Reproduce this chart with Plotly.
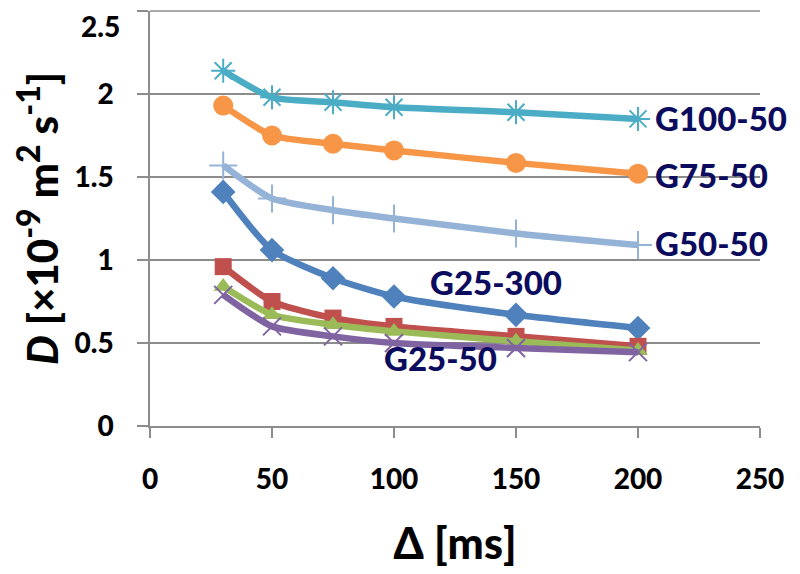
import plotly.graph_objects as go

delta_ms = [30, 50, 75, 100, 150, 200]

series_names = ["G25-300", "G25-50 a", "G25-50 b", "G25-50", "G100-50", "G75-50", "G50-50"]
g25_300 = [1.41, 1.06, 0.89, 0.78, 0.67, 0.59]
g25_a = [0.96, 0.75, 0.65, 0.60, 0.54, 0.48]
g25_b = [0.84, 0.67, 0.61, 0.57, 0.51, 0.455]
g25_50 = [0.79, 0.60, 0.54, 0.50, 0.47, 0.445]
g100_50 = [2.14, 1.98, 1.95, 1.92, 1.89, 1.85]
g75_50 = [1.93, 1.75, 1.70, 1.66, 1.585, 1.52]
g50_50 = [1.57, 1.37, 1.30, 1.25, 1.16, 1.09]

x_ticks = [0, 50, 100, 150, 200, 250]
y_ticks = [0, 0.5, 1, 1.5, 2, 2.5]
y_tick_text = ["0", "0.5", "1", "1.5", "2", "2.5"]

GRID = "#8C8C8C"

styles = [
    (g25_300, "#4F81BD", "diamond", 19, 0),
    (g25_a, "#C0504D", "square", 17, 0),
    (g25_b, "#9BBB59", "triangle-up", 17, 0),
    (g25_50, "#8064A2", "x-thin-open", 18, 2),
    (g100_50, "#4BACC6", "asterisk-open", 20, 2),
    (g75_50, "#F79646", "circle", 20, 0),
    (g50_50, "#95B3D7", "cross-thin-open", 20, 2),
]

fig = go.Figure()
for name, (vals, col, sym, sz, mlw) in zip(series_names, styles):
    marker = dict(symbol=sym, size=sz, color=col)
    if mlw:
        marker["line"] = dict(color=col, width=mlw)
    fig.add_trace(go.Scatter(
        x=delta_ms, y=vals, name=name, mode="lines+markers",
        line=dict(color=col, width=6.5, shape="spline", smoothing=0.6),
        marker=marker,
    ))

label_font = dict(family="Lato", size=33, color="#0B0C5E", weight=900)
labels = [
    ("G100-50", 206, 1.855, "left"),
    ("G75-50", 206, 1.51, "left"),
    ("G50-50", 206, 1.10, "left"),
    ("G25-300", 142, 0.87, "center"),
    ("G25-50", 119, 0.41, "center"),
]
for txt, lx, ly, anc in labels:
    fig.add_annotation(x=lx, y=ly, text=txt, showarrow=False,
                       xanchor=anc, yanchor="middle", font=label_font)

tick_font = dict(family="Lato", size=28, color="black", weight=900)

# top tick label placed just under the top gridline (as in the reference)
fig.add_annotation(xref="paper", x=0, xanchor="right", xshift=-29,
                   yref="y", y=y_ticks[-1], yanchor="top", yshift=3, borderpad=0,
                   text=y_tick_text[-1], showarrow=False, font=tick_font)
# top gridline (at the top edge of the plot area)
fig.add_shape(type="line", xref="paper", x0=0, x1=1, yref="paper",
              y0=1, y1=1, line=dict(color=GRID, width=1.5), layer="above")

fig.update_layout(
    width=800, height=574,
    margin=dict(l=142, r=48, t=3, b=156),
    plot_bgcolor="white", paper_bgcolor="white",
    showlegend=False,
    font=dict(family="Lato", color="black"),
)
fig.update_xaxes(
    range=[0, 250], tickvals=x_ticks, showgrid=False, zeroline=False,
    showline=True, linecolor=GRID, linewidth=1.5,
    ticks="outside", ticklen=10, tickcolor=GRID, tickwidth=1.5,
    tickfont=tick_font, ticklabelstandoff=18, automargin=False,
    title=dict(text="Δ [ms]", font=dict(family="Lato", size=43, weight=900), standoff=35),
)
fig.update_yaxes(
    range=[0, 2.5], tickvals=y_ticks, ticktext=y_tick_text[:-1] + [""],
    showgrid=True, gridcolor=GRID, gridwidth=1.5, zeroline=False,
    showline=True, linecolor=GRID, linewidth=1.5,
    ticks="outside", ticklen=11, tickcolor=GRID, tickwidth=1.5,
    tickfont=tick_font, ticklabelstandoff=18,
    automargin=False,
    title=dict(text="<i>D</i> [×10<sup><span style='font-size:32px'>-9</span></sup> m"
                    "<sup><span style='font-size:32px'>2</span></sup> s"
                    "<sup><span style='font-size:32px'>-1</span></sup>]",
               font=dict(family="Lato", size=42, weight=900), standoff=9),
)

fig.write_html("out.html")
